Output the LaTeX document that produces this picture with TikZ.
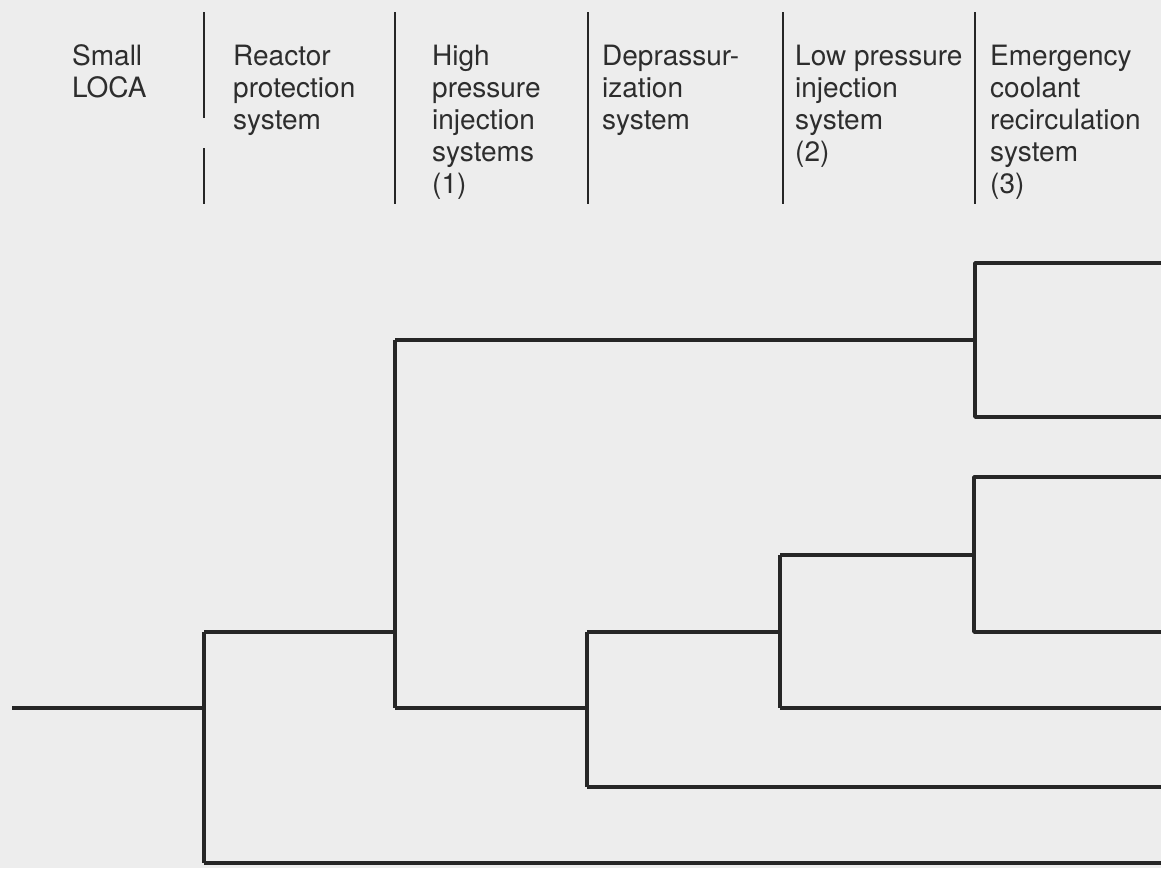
\documentclass[tikz,border=0pt]{standalone}
\usepackage{fontspec}
\setmainfont{TeX Gyre Heros}
\definecolor{bgpaper}{RGB}{237,237,237}
\definecolor{ink}{RGB}{38,38,38}
\definecolor{txtink}{RGB}{45,45,45}
\begin{document}
\begin{tikzpicture}[x=1pt,y=-1pt,
  treeline/.style={draw=ink,line width=3.6pt,line join=round,line cap=butt},
  sepline/.style={draw=ink,line width=2.8pt},
  hdr/.style={anchor=base west,inner sep=0pt,text=txtink,font=\fontsize{28}{32}\selectfont}]
\fill[bgpaper] (0,0) rectangle (1161,868);
\useasboundingbox (0,0) rectangle (1161,868);
% header separators
\coordinate (s1a) at (204,12);  \coordinate (s1b) at (204,118);
\coordinate (s1c) at (204,148); \coordinate (s1d) at (204,204);
\coordinate (s2a) at (395,12);  \coordinate (s2b) at (395,204);
\coordinate (s3a) at (588,12);  \coordinate (s3b) at (588,204);
\coordinate (s4a) at (783,12);  \coordinate (s4b) at (783,204);
\coordinate (s5a) at (975,12);  \coordinate (s5b) at (975,204);
\draw[sepline] (s1a) -- (s1b);
\draw[sepline] (s1c) -- (s1d);
\draw[sepline] (s2a) -- (s2b);
\draw[sepline] (s3a) -- (s3b);
\draw[sepline] (s4a) -- (s4b);
\draw[sepline] (s5a) -- (s5b);
% header texts
\node[hdr] (h1) at (72,65)  {\vtop{\hbox{Small}\hbox{LOCA}}};
\node[hdr] (h2) at (233,65) {\vtop{\hbox{Reactor}\hbox{protection}\hbox{system}}};
\node[hdr] (h3) at (432,65) {\vtop{\hbox{High}\hbox{pressure}\hbox{injection}\hbox{systems}\hbox{(1)}}};
\node[hdr] (h4) at (602,65) {\vtop{\hbox{Deprassur-}\hbox{ization}\hbox{system}}};
\node[hdr] (h5) at (795,65) {\vtop{\hbox{Low pressure}\hbox{injection}\hbox{system}\hbox{(2)}}};
\node[hdr] (h6) at (990,65) {\vtop{\hbox{Emergency}\hbox{coolant}\hbox{recirculation}\hbox{system}\hbox{(3)}}};
% tree points
\coordinate (start) at (12,708);
\coordinate (A)  at (204,708);
\coordinate (At) at (204,632);
\coordinate (Ab) at (204,863);
\coordinate (Bt) at (395,340);
\coordinate (Bm) at (395,632);
\coordinate (Bb) at (395,708);
\coordinate (Cm) at (975,340);
\coordinate (Ct) at (975,263);
\coordinate (Cb) at (975,417);
\coordinate (Dm) at (587,708);
\coordinate (Dt) at (587,632);
\coordinate (Db) at (587,787);
\coordinate (Em) at (780,632);
\coordinate (Et) at (780,555);
\coordinate (Eb) at (780,708);
\coordinate (Fm) at (974,555);
\coordinate (Ft) at (974,477);
\coordinate (Fb) at (974,632);
\coordinate (o1) at (1161,263);
\coordinate (o2) at (1161,417);
\coordinate (o3) at (1161,477);
\coordinate (o4) at (1161,632);
\coordinate (o5) at (1161,708);
\coordinate (o6) at (1161,787);
\coordinate (o7) at (1161,863);
% tree connectors
\draw[treeline] (start) -- (A);
\draw[treeline] (At) -- (Ab);
\draw[treeline] (At) -- (Bm);
\draw[treeline] (Ab) -- (o7);
\draw[treeline] (Bt) -- (Bb);
\draw[treeline] (Bt) -- (Cm);
\draw[treeline] (Bb) -- (Dm);
\draw[treeline] (o1) -- (Ct) -- (Cb) -- (o2);
\draw[treeline] (Dt) -- (Db);
\draw[treeline] (Dt) -- (Em);
\draw[treeline] (Db) -- (o6);
\draw[treeline] (Et) -- (Eb);
\draw[treeline] (Et) -- (Fm);
\draw[treeline] (Eb) -- (o5);
\draw[treeline] (o3) -- (Ft) -- (Fb) -- (o4);
\end{tikzpicture}
\end{document}
